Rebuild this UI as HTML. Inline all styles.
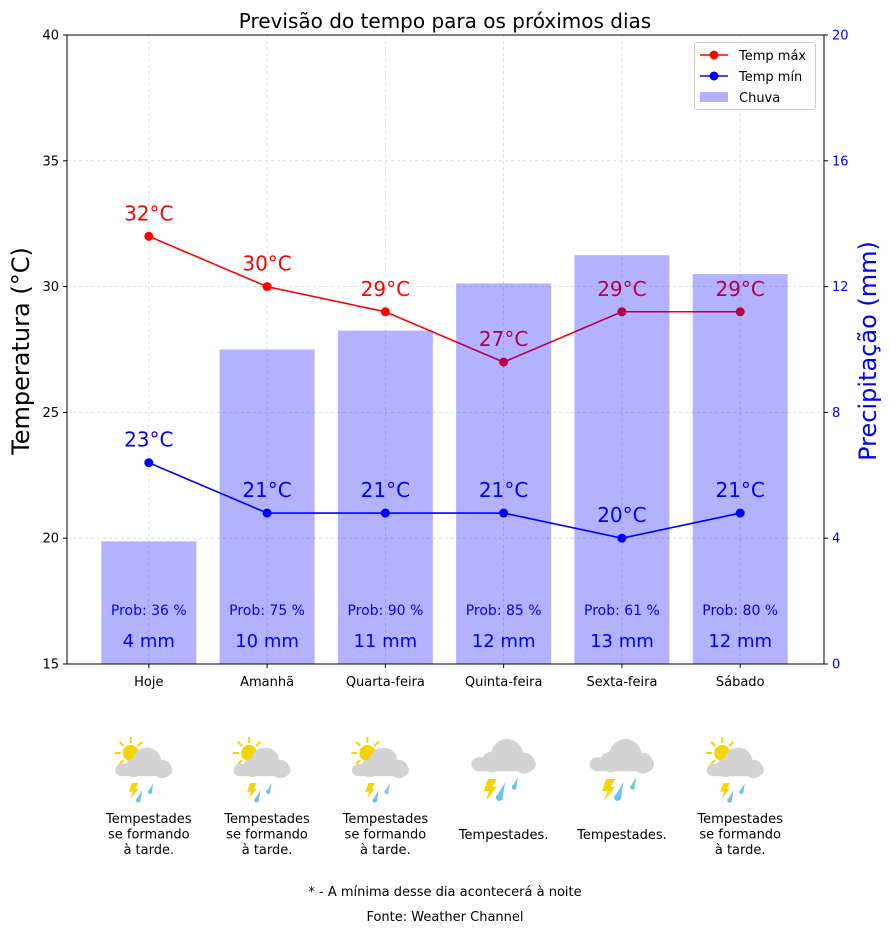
<!DOCTYPE html>
<html><head><meta charset="utf-8"><style>
body{margin:0;background:#fff}
svg{display:block;font-family:"DejaVu Sans","Liberation Sans",sans-serif}
</style></head><body>
<svg id="c" width="890" height="933" viewBox="0 0 890 933"></svg>
<script>
const categories=["Hoje","Amanhã","Quarta-feira","Quinta-feira","Sexta-feira","Sábado"];
const tempMax=[32,30,29,27,29,29];
const tempMin=[23,21,21,21,20,21];
const rain=[3.9,10,10.6,12.1,13,12.4];
const rainLabels=[4,10,11,12,13,12];
const prob=[36,75,90,85,61,80];
const icons=["partly","partly","partly","storm","storm","partly"];
const descs=[["Tempestades","se formando","à tarde."],["Tempestades","se formando","à tarde."],["Tempestades","se formando","à tarde."],["Tempestades."],["Tempestades."],["Tempestades","se formando","à tarde."]];
const leftTicks=[15,20,25,30,35,40];
const rightTicks=[0,4,8,12,16,20];

const L=67,R=824,T=35,B=664;
const x=i=>L+(i+0.7)*(R-L)/6.4-1;
const yT=v=>B-(v-15)/25*(B-T);
const yR=v=>B-v/20*(B-T);
const NS="http://www.w3.org/2000/svg";
const svg=document.getElementById('c');
function mk(tag,a,parent,txt){
 if(parent!==undefined&&parent!==null&&!(parent instanceof Node)){txt=parent;parent=null;}
 const el=document.createElementNS(NS,tag);for(const k in a)el.setAttribute(k,a[k]);if(txt!==undefined)el.textContent=txt;(parent||svg).appendChild(el);return el;}

let e;
// grid
leftTicks.forEach(v=>{e=mk('line',{x1:L,x2:R,y1:yT(v),y2:yT(v),stroke:'#b0b0b0','stroke-width':0.8,'stroke-dasharray':'3,3',opacity:0.5});

});
categories.forEach((c,i)=>{e=mk('line',{x1:x(i),x2:x(i),y1:T,y2:B,stroke:'#b0b0b0','stroke-width':0.8,'stroke-dasharray':'3,3',opacity:0.5});

});

// lines
function series(vals,color,name){
 e=mk('polyline',{points:vals.map((v,i)=>x(i)+','+yT(v)).join(' '),fill:'none',stroke:color,'stroke-width':1.6});
 
 
 vals.forEach((v,i)=>{
  e=mk('circle',{cx:x(i),cy:yT(v),r:4.5,fill:color});
  
  
  e=mk('text',{x:x(i),y:yT(v)-16,'text-anchor':'middle','font-size':20,fill:color},null,v+'°C');
  
  
 });
}
series(tempMax,'#ff0000','temp-max');
series(tempMin,'#0000ff','temp-min');

// bars
rain.forEach((v,i)=>{
 e=mk('rect',{x:x(i)-47.5,y:yR(v),width:95,height:B-yR(v),fill:'#0000ff','fill-opacity':0.3});
 
 
 e=mk('text',{x:x(i),y:615,'text-anchor':'middle','font-size':14,fill:'#0000ff'},null,'Prob: '+prob[i]+' %');
 
 
 e=mk('text',{x:x(i),y:647,'text-anchor':'middle','font-size':18,fill:'#0000ff'},null,rainLabels[i]+' mm');
 
 
});

// frame
e=mk('rect',{x:L,y:T,width:R-L,height:B-T,fill:'none',stroke:'#000','stroke-width':1});



leftTicks.forEach(v=>{mk('line',{x1:L-4,x2:L,y1:yT(v),y2:yT(v),stroke:'#000'});
 e=mk('text',{x:L-8,y:yT(v)+4.5,'text-anchor':'end','font-size':13},null,String(v));
 
 });
rightTicks.forEach(v=>{mk('line',{x1:R,x2:R+4,y1:yR(v),y2:yR(v),stroke:'#000'});
 e=mk('text',{x:R+8,y:yR(v)+4.5,'font-size':13,fill:'#0000ff'},null,String(v));
 
 });
categories.forEach((c,i)=>{mk('line',{x1:x(i),x2:x(i),y1:B,y2:B+4,stroke:'#000'});
 e=mk('text',{x:x(i),y:686,'text-anchor':'middle','font-size':13},null,c);
 
 });

e=mk('text',{x:445,y:28,'text-anchor':'middle','font-size':20},null,'Previsão do tempo para os próximos dias');


e=mk('text',{x:0,y:0,'text-anchor':'middle','font-size':24,transform:'translate(29,351) rotate(-90)'},null,'Temperatura (°C)');


e=mk('text',{x:0,y:0,'text-anchor':'middle','font-size':24,fill:'#0000ff',transform:'translate(876,351) rotate(-90)'},null,'Precipitação (mm)');



// legend
const lg=mk('g',{});


mk('rect',{x:694.5,y:42.5,width:121,height:67,rx:3,fill:'#fff','fill-opacity':0.8,stroke:'#ccc'},lg);
[['#ff0000','Temp máx',55],['#0000ff','Temp mín',76]].forEach(d=>{
 mk('line',{x1:700,x2:728,y1:d[2],y2:d[2],stroke:d[0],'stroke-width':1.6},lg);
 mk('circle',{cx:714,cy:d[2],r:4.5,fill:d[0]},lg);
 mk('text',{x:739,y:d[2]+5,'font-size':13},lg,d[1]);
});
mk('rect',{x:700,y:92,width:28,height:10,fill:'#0000ff','fill-opacity':0.3},lg);
mk('text',{x:739,y:102,'font-size':13},lg,'Chuva');

// icons
function cloud(g,cx,cy,s){
 const c='#d3d3d3';
 mk('rect',{x:cx-28*s,y:cy-4*s,width:56*s,height:12*s,rx:6*s,fill:c},g);
 mk('circle',{cx:cx-10*s,cy:cy,r:9*s,fill:c},g);
 mk('circle',{cx:cx+3*s,cy:cy-6*s,r:14*s,fill:c},g);
 mk('circle',{cx:cx+18*s,cy:cy+1*s,r:9*s,fill:c},g);
}
function bolt(g,bx,by,s){mk('polygon',{points:[[bx+4,by],[bx+12,by],[bx+8,by+7],[bx+12,by+7],[bx+2,by+20],[bx+5,by+11],[bx,by+11]].map(p=>(bx+(p[0]-bx)*s)+','+(by+(p[1]-by)*s)).join(' '),fill:'#f5d400'},g);}
function drop(g,dx,dy,s){mk('path',{d:`M${dx+8*s},${dy} L${dx+2*s},${dy+10*s} A${3*s},${3*s} 0 1 0 ${dx+6*s},${dy+12*s} Z`,fill:'#6cc4ec'},g);}
icons.forEach((t,i)=>{
 const cx=x(i);
 const g=mk('g',{});
 
 
 if(t==='partly'){
  const sx=cx-18,sy=753;
  for(let k=0;k<8;k++){const a=k*Math.PI/4-Math.PI/2;mk('line',{x1:sx+Math.cos(a)*10,y1:sy+Math.sin(a)*10,x2:sx+Math.cos(a)*16,y2:sy+Math.sin(a)*16,stroke:'#f5d400','stroke-width':2},g);}
  mk('circle',{cx:sx,cy:sy,r:8,fill:'#f5d400'},g);
  cloud(g,cx-5,768,1.02);
  bolt(g,cx-20,783,0.8);drop(g,cx-13,790,0.8);drop(g,cx-1,783,0.7);
 }else{
  cloud(g,cx,762,1.15);
  bolt(g,cx-20,779,1.1);drop(g,cx-8,782,1.2);drop(g,cx+8,777,0.8);
 }
 descs[i].forEach((ln,j)=>{
  const n=descs[i].length;
  e=mk('text',{x:cx,y:(n===1?839:823+j*15.5),'text-anchor':'middle','font-size':13},null,ln);
  
  
 });
});
e=mk('text',{x:445,y:896,'text-anchor':'middle','font-size':13},null,'* - A mínima desse dia acontecerá à noite');


e=mk('text',{x:445,y:921,'text-anchor':'middle','font-size':13},null,'Fonte: Weather Channel');


</script>
</body></html>
